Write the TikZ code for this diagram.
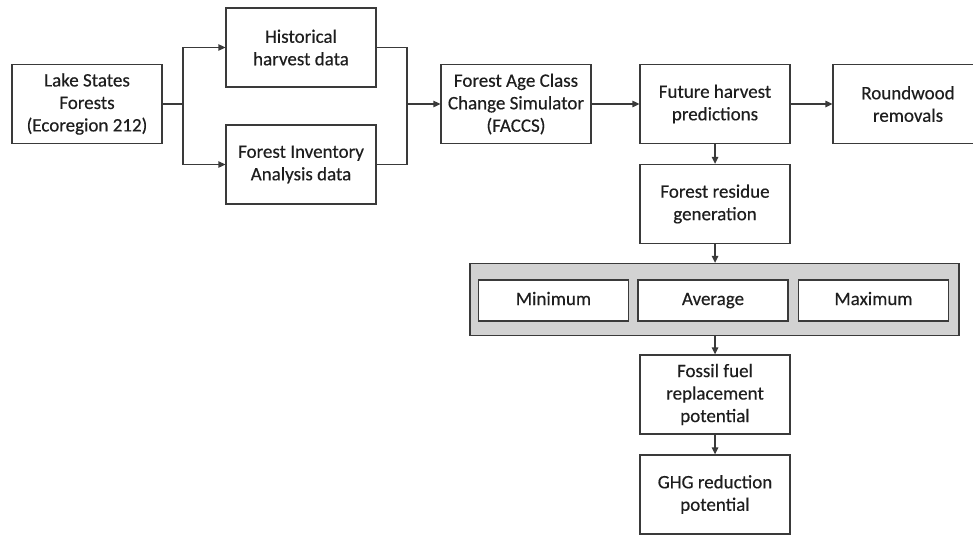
\documentclass[tikz,border=0pt]{standalone}
\usepackage{fontspec}
\setmainfont{Carlito}
\newfontfamily\boxfont{Carlito}[FakeBold=0.35]
\usetikzlibrary{arrows.meta}
\definecolor{ln}{HTML}{3A3A3A}
\definecolor{tx}{HTML}{1E1E1E}
\definecolor{grayfill}{HTML}{D2D2D2}
\begin{document}
\begin{tikzpicture}[x=1pt,y=-1pt,
  box/.style={draw=ln,line width=1.3pt,fill=white,minimum width=150pt,minimum height=79pt,
    inner sep=0pt,align=center,text=tx,font=\boxfont\fontsize{19}{22.5}\selectfont},
  sbox/.style={box,minimum height=41pt,text height=13pt,text depth=4pt},
  arr/.style={draw=ln,line width=1.3pt,-{Triangle[length=7pt,width=6.5pt]}},
  ln/.style={draw=ln,line width=1.3pt}]
\useasboundingbox (0,0) rectangle (973,535);
\node[box] (lake) at (87,104) {Lake States\\Forests\\(Ecoregion 212)};
\node[box] (hist) at (301,47.5) {Historical\\harvest data};
\node[box] (fia) at (301,164.5) {Forest Inventory\\Analysis data};
\node[box] (faccs) at (516,104) {Forest Age Class\\Change Simulator\\(FACCS)};
\node[box] (future) at (715,104) {Future harvest\\predictions};
\node[box] (round) at (908,104) {Roundwood\\removals};
\node[box] (resid) at (715,204) {Forest residue\\generation};
\node[draw=ln,line width=1.3pt,fill=grayfill,minimum width=489pt,minimum height=72pt,inner sep=0pt] (grp) at (714.5,299.5) {};
\node[sbox] (min) at (553.5,300.5) {Minimum};
\node[sbox] (avg) at (713,300.5) {Average};
\node[sbox] (max) at (873.5,300.5) {Maximum};
\node[box] (fossil) at (715,394.5) {Fossil fuel\\replacement\\potential};
\node[box] (ghg) at (715,494.5) {GHG reduction\\potential};
\coordinate (split) at (183,104);
\coordinate (merge) at (407,104);
\draw[ln] (lake.east) -- (split);
\draw[arr] (split) |- (hist.west);
\draw[arr] (split) |- (fia.west);
\draw[ln] (hist.east) -| (merge);
\draw[ln] (fia.east) -| (merge);
\draw[arr] (merge) -- (faccs.west);
\draw[arr] (faccs.east) -- (future.west);
\draw[arr] (future.east) -- (round.west);
\draw[arr] (future.south) -- (resid.north);
\draw[arr] (resid.south) -- (resid.south |- grp.north);
\draw[arr] (fossil.north |- grp.south) -- (fossil.north);
\draw[arr] (fossil.south) -- (ghg.north);
\end{tikzpicture}
\end{document}
